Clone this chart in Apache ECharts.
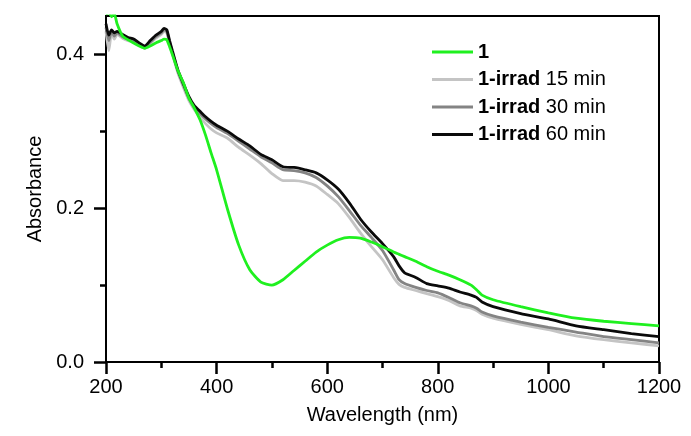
<!DOCTYPE html>
<html>
<head>
<meta charset="utf-8">
<script src="https://cdn.jsdelivr.net/npm/echarts@6/dist/echarts.min.js"></script>
<style>html,body{margin:0;padding:0;background:#fff;}#c{width:691px;height:436px;}</style>
</head>
<body>
<div id="c"></div>
<script>
var wavelengths = [200,205,210,215,220,230,240,250,260,270,
 280,290,300,305,310,315,320,330,340,350,
 360,370,380,390,400,420,440,460,480,500,
 520,540,560,580,600,620,640,660,680,700,
 720,730,740,760,780,800,820,840,860,870,
 880,900,950,1000,1050,1100,1150,1200];
var abs1 = [0.452,0.455,0.449,0.453,0.440,0.424,0.419,0.415,0.411,0.408,
 0.411,0.415,0.418,0.420,0.419,0.410,0.400,0.379,0.363,0.343,
 0.330,0.315,0.295,0.272,0.250,0.198,0.152,0.120,0.104,0.100,
 0.107,0.119,0.131,0.143,0.152,0.159,0.162,0.161,0.156,0.150,
 0.143,0.140,0.137,0.131,0.124,0.118,0.113,0.107,0.100,0.094,
 0.087,0.081,0.072,0.064,0.057,0.053,0.050,0.047];
var abs15 = [0.430,0.405,0.427,0.420,0.426,0.421,0.418,0.416,0.412,0.408,
 0.414,0.421,0.426,0.430,0.428,0.414,0.401,0.376,0.357,0.340,
 0.328,0.318,0.310,0.303,0.298,0.291,0.279,0.269,0.258,0.245,
 0.236,0.236,0.234,0.229,0.218,0.206,0.188,0.168,0.150,0.133,
 0.110,0.101,0.097,0.093,0.089,0.085,0.080,0.073,0.070,0.067,
 0.062,0.057,0.049,0.042,0.034,0.029,0.025,0.021];
var abs30 = [0.435,0.418,0.430,0.424,0.428,0.423,0.420,0.418,0.413,0.410,
 0.416,0.423,0.428,0.432,0.430,0.416,0.403,0.378,0.360,0.343,
 0.331,0.323,0.316,0.310,0.305,0.297,0.287,0.277,0.267,0.259,
 0.250,0.249,0.246,0.240,0.229,0.215,0.197,0.178,0.162,0.145,
 0.120,0.107,0.102,0.097,0.093,0.090,0.084,0.077,0.073,0.070,
 0.065,0.060,0.052,0.045,0.039,0.033,0.029,0.025];
var abs60 = [0.440,0.425,0.432,0.428,0.430,0.426,0.422,0.420,0.415,0.411,
 0.418,0.425,0.430,0.434,0.432,0.418,0.405,0.380,0.362,0.345,
 0.333,0.326,0.319,0.313,0.308,0.300,0.290,0.281,0.270,0.263,
 0.254,0.253,0.250,0.246,0.237,0.225,0.207,0.186,0.169,0.154,
 0.137,0.125,0.116,0.110,0.102,0.099,0.096,0.091,0.087,0.084,
 0.078,0.072,0.063,0.056,0.047,0.042,0.037,0.033];
var seriesNames = ['1','1-irrad 15 min','1-irrad 30 min','1-irrad 60 min'];
var yMajorTicks = [0, 0.2, 0.4];
var yMinorTicks = [0.1, 0.3];

function pairs(v){ return wavelengths.map(function(w,i){ return [w, v[i]]; }); }

var FONT = '"Liberation Sans", Arial, sans-serif';
var chart = echarts.init(document.getElementById('c'), null, {renderer:'canvas'});

function mk(name, vals, color){
  return {name:name, type:'line', data:pairs(vals), showSymbol:false, symbol:'none',
    lineStyle:{color:color, width:2.8}, itemStyle:{color:color}, smooth:0.2};
}

chart.setOption({
  animation:false,
  backgroundColor:'#fff',
  grid:{left:106, right:32, top:16, bottom:74, show:true, borderColor:'#000', borderWidth:2, backgroundColor:'transparent'},
  legend:{
    data:seriesNames, orient:'vertical', left:427, top:37,
    itemWidth:41, itemHeight:20, itemGap:7.5,
    icon:'path://M0,0 L41,0 L41,3 L0,3 Z',
    formatter:function(n){
      if(n === '1') return '{b|1}';
      return '{b|1-irrad}{r|' + n.replace('1-irrad','') + '}';
    },
    textStyle:{fontFamily:FONT, fontSize:20, color:'#000',
      rich:{b:{fontWeight:'bold', fontFamily:FONT, fontSize:20, color:'#000'},
            r:{fontFamily:FONT, fontSize:20, color:'#000'}}}
  },
  xAxis:{
    type:'value', min:200, max:1200, interval:200,
    name:'Wavelength (nm)', nameLocation:'middle', nameGap:43,
    nameTextStyle:{fontFamily:FONT, fontSize:20, color:'#000'},
    axisLine:{show:true, onZero:false, lineStyle:{color:'#000', width:2}},
    axisTick:{show:true, length:12, lineStyle:{color:'#000', width:2.5}},
    minorTick:{show:true, splitNumber:2, length:6, lineStyle:{color:'#000', width:2.5}},
    axisLabel:{fontFamily:FONT, fontSize:20, color:'#000', margin:15,
      formatter:function(v){ return String(v); }},
    splitLine:{show:false}
  },
  yAxis:[{
    type:'value', min:0, max:0.45, interval:0.2, position:'left',
    name:'Absorbance', nameLocation:'middle', nameGap:47,
    nameTextStyle:{fontFamily:FONT, fontSize:20, color:'#000'},
    axisLine:{show:true, onZero:false, lineStyle:{color:'#000', width:2}},
    axisTick:{show:true, length:12, customValues:yMajorTicks, lineStyle:{color:'#000', width:2.5}},
    axisLabel:{fontFamily:FONT, fontSize:20, color:'#000', margin:22, customValues:yMajorTicks,
      formatter:function(v){ return v.toFixed(1); }},
    splitLine:{show:false}
  },{
    type:'value', min:0, max:0.45, position:'left',
    axisLine:{show:false},
    axisTick:{show:true, length:6, customValues:yMinorTicks, lineStyle:{color:'#000', width:2.5}},
    axisLabel:{show:false},
    splitLine:{show:false}
  }],
  series:[
    mk(seriesNames[1], abs15, '#c4c4c4'),
    mk(seriesNames[2], abs30, '#848484'),
    mk(seriesNames[3], abs60, '#0a0a0a'),
    mk(seriesNames[0], abs1, '#1ff01f')
  ]
});
</script>
</body>
</html>
